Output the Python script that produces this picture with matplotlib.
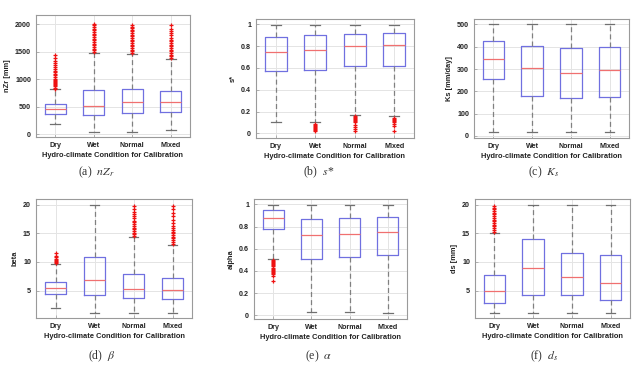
import matplotlib
matplotlib.use("Agg")
import matplotlib.pyplot as plt

plt.rcParams['font.family'] = ['Liberation Sans', 'DejaVu Sans']
plt.rcParams['mathtext.fontset'] = 'stix'

categories = ["Dry", "Wet", "Normal", "Mixed"]
xlabel = "Hydro-climate Condition for Calibration"

# nZr [mm]
nzr_whislo = [188, 36, 49, 79]
nzr_q1 = [377, 347, 395, 413]
nzr_med = [456, 515, 580, 578]
nzr_q3 = [553, 800, 827, 796]
nzr_whishi = [815, 1485, 1465, 1374]
nzr_fliers = [
    [830, 850, 870, 890, 910, 930, 950, 970, 990, 1010, 1040, 1070, 1100, 1130, 1160,
     1190, 1220, 1260, 1300, 1340, 1390, 1440],
    [1500, 1530, 1560, 1590, 1620, 1650, 1680, 1710, 1740, 1770, 1800, 1830, 1860,
     1890, 1920, 1950, 1980, 2000],
    [1480, 1510, 1540, 1570, 1600, 1630, 1660, 1690, 1720, 1750, 1780, 1810, 1840,
     1870, 1900, 1930, 1960, 1985],
    [1390, 1420, 1450, 1480, 1510, 1540, 1570, 1600, 1630, 1660, 1690, 1720, 1760,
     1800, 1840, 1880, 1920, 1980],
]

# s*
s_whislo = [0.10, 0.106, 0.17, 0.155]
s_q1 = [0.571, 0.584, 0.62, 0.614]
s_med = [0.742, 0.769, 0.80, 0.81]
s_q3 = [0.885, 0.906, 0.915, 0.924]
s_whishi = [0.99, 0.99, 0.99, 0.99]
s_fliers = [
    [],
    [0.02, 0.03, 0.04, 0.05, 0.06, 0.07, 0.08, 0.09],
    [0.02, 0.04, 0.06, 0.08, 0.10, 0.11, 0.12, 0.13, 0.14, 0.15, 0.16],
    [0.02, 0.07, 0.09, 0.10, 0.11, 0.12, 0.13, 0.14],
]

# Ks [mm/day]
ks_whislo = [18, 18, 18, 18]
ks_q1 = [254, 180, 168, 175]
ks_med = [347, 305, 281, 295]
ks_q3 = [427, 404, 394, 397]
ks_whishi = [500, 500, 500, 500]
ks_fliers = [[], [], [], []]

# beta
b_whislo = [2.03, 1.1, 1.1, 1.1]
b_q1 = [4.36, 4.19, 3.66, 3.49]
b_med = [5.4, 6.86, 5.3, 5.06]
b_q3 = [6.45, 10.93, 7.9, 7.27]
b_whishi = [9.65, 20.0, 14.3, 13.0]
b_fliers = [
    [9.8, 10.0, 10.2, 10.4, 10.6, 10.8, 11.1, 11.5],
    [],
    [14.5, 14.8, 15.1, 15.4, 15.7, 16.0, 16.3, 16.6, 16.9, 17.2, 17.6, 18.0, 18.4,
     18.8, 19.2, 19.7],
    [13.2, 13.5, 13.8, 14.1, 14.4, 14.7, 15.0, 15.3, 15.6, 15.9, 16.2, 16.8, 17.4,
     18.0, 18.6, 19.2, 19.7],
]

# alpha
a_whislo = [0.51, 0.03, 0.03, 0.024]
a_q1 = [0.778, 0.508, 0.526, 0.544]
a_med = [0.877, 0.724, 0.73, 0.75]
a_q3 = [0.946, 0.871, 0.88, 0.89]
a_whishi = [0.994, 0.99, 0.99, 0.99]
a_fliers = [
    [0.31, 0.35, 0.37, 0.38, 0.39, 0.40, 0.41, 0.42, 0.43, 0.44, 0.45, 0.46, 0.47,
     0.48, 0.49, 0.50],
    [], [], [],
]

# ds [mm]
d_whislo = [1.16, 1.1, 1.1, 1.1]
d_q1 = [2.9, 4.3, 4.3, 3.3]
d_med = [4.88, 8.9, 7.44, 6.34]
d_q3 = [7.79, 14.07, 11.5, 11.16]
d_whishi = [15.0, 20.0, 20.0, 20.0]
d_fliers = [
    [15.3, 15.6, 15.9, 16.2, 16.5, 16.8, 17.1, 17.4, 17.7, 18.0, 18.3, 18.6, 18.9,
     19.2, 19.5, 19.7],
    [], [], [],
]

panels = [
    dict(pos=[36, 15, 154, 122], ylabel="nZr [mm]", ylim=(-50, 2170),
         yticks=[0, 500, 1000, 1500, 2000], ytl=["0", "500", "1000", "1500", "2000"],
         stats=(nzr_whislo, nzr_q1, nzr_med, nzr_q3, nzr_whishi, nzr_fliers),
         cap="(a)  $nZ_r$", capx=78, capy=172),
    dict(pos=[256, 19, 158, 119], ylabel="s*", ylim=(-0.043, 1.049),
         yticks=[0, 0.2, 0.4, 0.6, 0.8, 1], ytl=["0", "0.2", "0.4", "0.6", "0.8", "1"],
         stats=(s_whislo, s_q1, s_med, s_q3, s_whishi, s_fliers),
         cap="(b)  $s$*", capx=303, capy=172),
    dict(pos=[474, 19, 155, 119], ylabel="Ks [mm/day]", ylim=(-9, 524),
         yticks=[0, 100, 200, 300, 400, 500], ytl=["0", "100", "200", "300", "400", "500"],
         stats=(ks_whislo, ks_q1, ks_med, ks_q3, ks_whishi, ks_fliers),
         cap="(c)  $K_s$", capx=528, capy=172),
    dict(pos=[36, 199, 156, 119], ylabel="beta", ylim=(0.2, 21),
         yticks=[5, 10, 15, 20], ytl=["5", "10", "15", "20"],
         stats=(b_whislo, b_q1, b_med, b_q3, b_whishi, b_fliers),
         cap=r"(d)  $\beta$", capx=88, capy=356),
    dict(pos=[254, 199, 153, 120], ylabel="alpha", ylim=(-0.033, 1.048),
         yticks=[0, 0.2, 0.4, 0.6, 0.8, 1], ytl=["0", "0.2", "0.4", "0.6", "0.8", "1"],
         stats=(a_whislo, a_q1, a_med, a_q3, a_whishi, a_fliers),
         cap=r"(e)  $\alpha$", capx=305, capy=356),
    dict(pos=[475, 199, 155, 119], ylabel="ds [mm]", ylim=(0.2, 21),
         yticks=[5, 10, 15, 20], ytl=["5", "10", "15", "20"],
         stats=(d_whislo, d_q1, d_med, d_q3, d_whishi, d_fliers),
         cap="(f)  $d_s$", capx=530, capy=356),
]

W, H = 643, 368
fig = plt.figure(figsize=(W / 100, H / 100), dpi=100)
fig.patch.set_facecolor("white")

for p in panels:
    l, t, w, h = p["pos"]
    ax = fig.add_axes([l / W, 1 - (t + h) / H, w / W, h / H])
    whislo, q1, med, q3, whishi, fliers = p["stats"]
    bstats = []
    for i, c in enumerate(categories):
        bstats.append(dict(label=c, whislo=whislo[i], q1=q1[i], med=med[i],
                           q3=q3[i], whishi=whishi[i], fliers=fliers[i]))
    ax.bxp(bstats, positions=[1, 2, 3, 4], widths=0.55, capwidths=0.25,
           boxprops=dict(color="#7070e0", linewidth=0.9),
           medianprops=dict(color="#f07070", linewidth=0.9),
           whiskerprops=dict(color="#808080", linestyle=(0, (4, 2.5)), linewidth=0.9),
           capprops=dict(color="#707070", linewidth=0.9),
           flierprops=dict(marker="+", markeredgecolor="#ee1111", markersize=3.5,
                           markeredgewidth=0.9, linestyle="none"))
    ax.set_xlim(0.5, 4.5)
    ax.set_ylim(*p["ylim"])
    ax.set_yticks(p["yticks"])
    ax.set_yticklabels(p["ytl"])
    ax.set_xticks([1, 2, 3, 4])
    ax.set_xticklabels(categories)
    ax.grid(True, color="#e4e4e4", linewidth=0.7)
    ax.set_axisbelow(True)
    for sp in ax.spines.values():
        sp.set_color("#9a9a9a")
        sp.set_linewidth(0.8)
    ax.tick_params(direction="in", length=2, width=0.5, color="#9a9a9a",
                   labelsize=5.1, pad=3.5)
    for lab in ax.get_xticklabels() + ax.get_yticklabels():
        lab.set_fontweight("bold")
        lab.set_color("#222222")
    ax.set_xlabel(xlabel, fontsize=5.4, fontweight="bold", color="#222222", labelpad=2.5)
    ax.set_ylabel(p["ylabel"], fontsize=5.4, fontweight="bold", color="#222222", labelpad=3)
    fig.text(p["capx"] / W, 1 - p["capy"] / H, p["cap"], fontsize=8.5,
             family="Liberation Serif", color="#333333", va="center", ha="left")

fig.savefig("out.png", dpi=100, facecolor="white")
